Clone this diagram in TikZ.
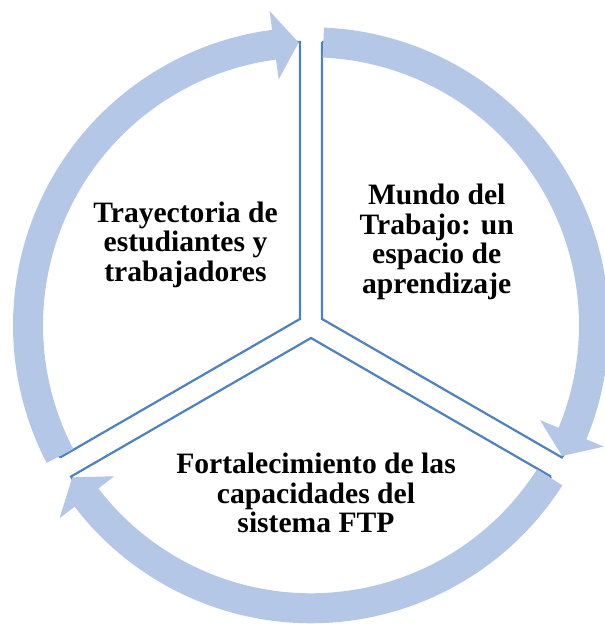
\documentclass[tikz,border=0pt]{standalone}
\usepackage{fontspec}
\setmainfont{Liberation Serif}
\definecolor{arrowblue}{RGB}{180,199,231}
\definecolor{lineblue}{RGB}{79,129,189}
\tikzset{
  segline/.style={draw=lineblue, line width=2.2pt, line join=miter},
  cyclearrow/.style={fill=arrowblue},
  label/.style={font=\bfseries\fontsize{29.6}{29.5}\selectfont, align=center, inner sep=0pt, text=black}
}
\begin{document}
\begin{tikzpicture}[x=1pt,y=1pt]
\useasboundingbox (0,0) rectangle (605,627);
\begin{scope}[shift={(311pt,301.7pt)}]
  % pie segments (offset from the centre)
  \begin{scope}[shift={(150:12.7pt)}]
    \draw[segline] (210:277pt) -- (0,0) -- (90:277pt) arc[start angle=90, end angle=210, radius=277pt];
  \end{scope}
  \begin{scope}[shift={(30:12.7pt)}]
    \draw[segline] (90:277pt) -- (0,0) -- (-30:277pt) arc[start angle=-30, end angle=90, radius=277pt];
  \end{scope}
  \begin{scope}[shift={(270:12.7pt)}]
    \draw[segline] (330:277pt) -- (0,0) -- (210:277pt) arc[start angle=210, end angle=330, radius=277pt];
  \end{scope}
  % circular arrows
  \foreach \t/\b/\a in {207.5/97.5/92.5, 87.5/-22.5/-27.5, -32.5/-142.5/-147.5}{
    \fill[cyclearrow] (\t:298pt) arc[start angle=\t, end angle=\b, radius=298pt]
      -- (\b:317pt) -- (\a:283pt) -- (\b:248pt) -- (\b:268pt)
      arc[start angle=\b, end angle=\t, radius=268pt] -- cycle;
  }
\end{scope}
\node[label] (tray) at (185.5,382.5) {Trayectoria de\\estudiantes y\\trabajadores};
\node[label] (mundo) at (436.7,385) {Mundo del\\Trabajo: un\\espacio de\\aprendizaje};
\node[label] (fort) at (316,133.7) {Fortalecimiento de las\\capacidades del\\sistema FTP};
\end{tikzpicture}
\end{document}
